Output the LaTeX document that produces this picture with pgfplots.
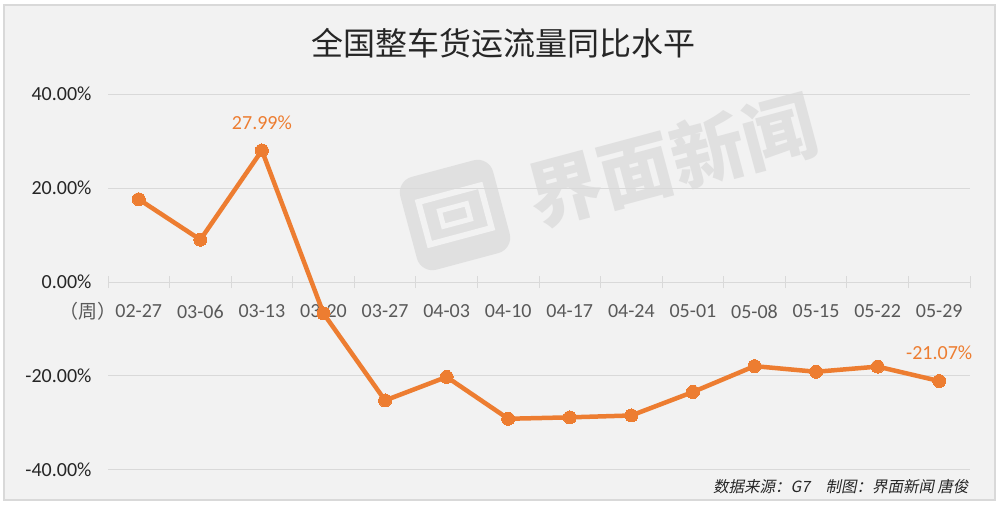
\documentclass[border=0pt]{standalone}
\usepackage{pgfplots}
\pgfplotsset{compat=1.18}
\usepackage{fontspec}
\setmainfont{Carlito}
\newfontfamily\cjk{Noto Sans CJK SC}
\newfontfamily\cjkit[FakeSlant=0.2]{Noto Sans CJK SC}
\definecolor{bgc}{HTML}{F2F2F2}
\definecolor{gridc}{HTML}{D9D9D9}
\definecolor{linec}{HTML}{ED7D31}
\definecolor{wm}{HTML}{E0E0E0}
\definecolor{txt}{HTML}{262626}
\definecolor{xtxt}{HTML}{595959}
\begin{document}
\begin{tikzpicture}[x=1pt,y=1pt]
\useasboundingbox (0,0) rectangle (1000,505);
\fill[white] (0,0) rectangle (1000,505);
\draw[gridc, fill=bgc, line width=1.5pt] (4,5) rectangle (995,500);
% watermark
\begin{scope}[shift={(455,290)}, rotate=15]
  \fill[wm, rounded corners=16pt] (-48,-48) rectangle (48,48);
  \draw[bgc, line width=6pt] (-32,-22) rectangle (32,22);
  \draw[bgc, line width=5pt] (-14,-8) rectangle (14,8);
\end{scope}
\node[rotate=15, text=wm, font=\cjk\bfseries\fontsize{74}{80}\selectfont] at (672,345) {界面新闻};
% title
\node[font=\cjk\fontsize{32}{36}\selectfont, text=black!85] at (503,462) {全国整车货运流量同比水平};
\begin{axis}[
  at={(108pt,35pt)}, anchor=south west,
  scale only axis, width=862pt, height=376pt,
  xmin=-0.5, xmax=13.5, ymin=-40, ymax=40,
  axis x line=middle, axis y line=left,
  axis line style={-},
  x axis line style={draw=gridc, line width=1pt},
  y axis line style={draw=none},
  hide obscured x ticks=false, hide obscured y ticks=false,
  ytick={-40,-20,0,20,40},
  yticklabels={-40.00\%,-20.00\%,0.00\%,20.00\%,40.00\%},
  ymajorgrids, grid style={gridc, line width=1pt},
  xtick={0,...,13},
  xticklabels={02-27,03-06,03-13,03-20,03-27,04-03,04-10,04-17,04-24,05-01,05-08,05-15,05-22,05-29},
  minor xtick={-0.5,0.5,...,13.5},
  major tick length=0pt, minor tick length=12pt, tick align=center,
  minor tick style={gridc, line width=1pt},
  yticklabel style={font=\fontsize{20}{24}\selectfont, text=txt, xshift=-13pt},
  xticklabel style={font=\fontsize{20}{24}\selectfont, text=xtxt, yshift=-19pt},
  clip=false,
]
\addplot[linec, line width=4.5pt, line join=round, mark=*, mark size=6.5pt,
  mark options={fill=linec, draw=linec, line width=0pt}] coordinates {
  (0,17.6) (1,9.0) (2,27.99) (3,-6.7) (4,-25.2) (5,-20.2) (6,-29.1)
  (7,-28.8) (8,-28.4) (9,-23.4) (10,-17.9) (11,-19.1) (12,-18.0) (13,-21.07)
};
\addplot[draw=none, mark=none, nodes near coords, point meta=explicit symbolic,
  nodes near coords style={font=\fontsize{20}{24}\selectfont, text=linec, anchor=center, yshift=28pt}]
  coordinates {(2,27.99) [27.99\%] (13,-21.07) [-21.07\%]};
\end{axis}
\node[font=\cjk\fontsize{19}{22}\selectfont, text=xtxt] at (88,194) {（周）};
\node[anchor=east, font=\cjkit\fontsize{15.5}{18}\selectfont, text=txt] at (972,18) {数据来源：G7\quad 制图：界面新闻 唐俊};
\end{tikzpicture}
\end{document}
